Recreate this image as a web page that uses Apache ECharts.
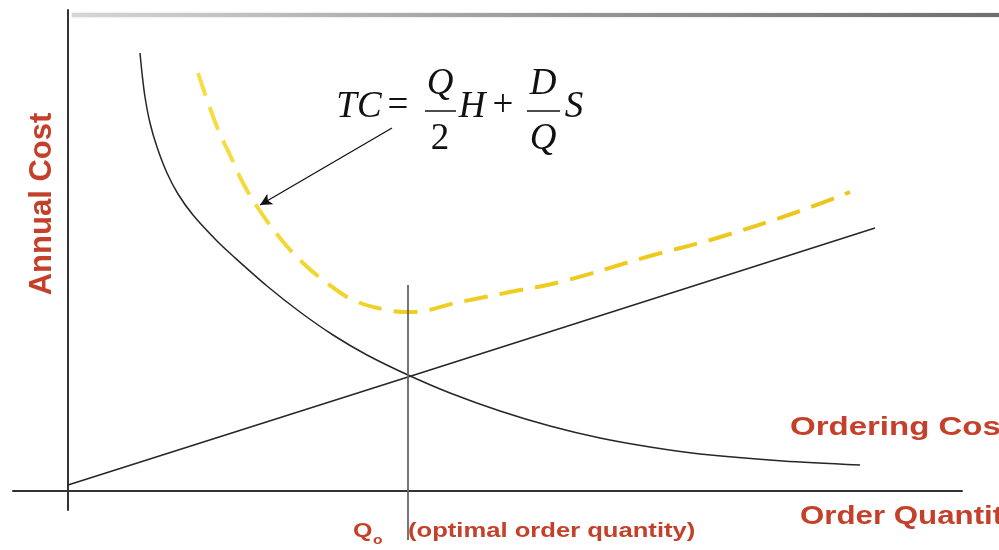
<!DOCTYPE html>
<html>
<head>
<meta charset="utf-8">
<script src="https://cdn.jsdelivr.net/npm/echarts@6/dist/echarts.min.js"></script>
<style>
    html, body { margin: 0; padding: 0; background: #fff; }
    #chart { width: 999px; height: 550px; }
</style>
</head>
<body>
<div id="chart"></div>
<script>
// order quantity / annual cost (arbitrary units)
var orderingQ    = [7.2, 7.4, 7.7, 8.2, 8.9, 9.9, 11.0, 12.5, 14.9, 16.5, 19.9, 23.2, 26.5, 29.9, 34.0, 38.2, 43.2, 48.2, 53.2, 58.2, 63.2, 71.5, 79.2];
var orderingCost = [43.8, 41.8, 39.4, 36.8, 34.4, 31.8, 29.7, 27.6, 25.0, 23.5, 20.5, 17.9, 15.6, 13.6, 11.6, 9.8, 8.0, 6.5, 5.3, 4.4, 3.7, 3.0, 2.6];

var holdingQ     = [0, 34.0, 80.7];
var holdingCost  = [0.6, 11.4, 26.3];

var totalQ       = [13.0, 14.9, 16.2, 17.5, 19.0, 21.2, 23.5, 25.9, 28.5, 31.9, 34.2, 39.2, 44.2, 49.2, 58.2, 64.9, 72.9, 78.2];
var totalCost    = [41.8, 36.4, 33.6, 30.8, 28.3, 25.3, 22.8, 20.8, 19.1, 18.1, 17.9, 18.9, 19.9, 20.9, 23.5, 25.3, 27.9, 29.9];

var optimalQ     = 34.0;
var optimalSpan  = [-4.9, 20.6];
var arrowFrom    = [32.4, 36.3];
var arrowTo      = [19.2, 28.6];

function pairs(xs, ys) {
    return xs.map(function (x, i) { return [x, ys[i]]; });
}

var red = '#c5402a';
var lineCol = '#262626';

function label(text, x, y, size, sx, opts) {
    opts = opts || {};
    return {
        type: 'text',
        x: x, y: y,
        rotation: opts.rotation || 0,
        scaleX: sx || 1,
        originX: 0, originY: 0,
        silent: true,
        style: {
            text: text,
            x: 0, y: 0,
            fill: opts.fill || red,
            font: (opts.font || 'bold ' + size + 'px "Liberation Sans", Arial, sans-serif'),
            align: opts.align || 'left',
            verticalAlign: 'middle',
            textAlign: opts.align || 'left',
            textVerticalAlign: 'middle'
        }
    };
}

var serif = '"Liberation Serif", "Times New Roman", serif';
function mathText(text, cx, cy, italic) {
    return label(text, cx, cy, 0, 1, {
        fill: '#111',
        align: 'center',
        font: (italic ? 'italic ' : '') + '37px ' + serif
    });
}

var myChart = echarts.init(document.getElementById('chart'), null, { renderer: 'canvas' });

var opt = {
    animation: false,
    backgroundColor: '#fff',
    grid: { left: 13, right: 37, top: 10, bottom: 40 },
    xAxis: {
        type: 'value',
        min: -5.5,
        max: 89.4,
        axisLine: { show: true, onZero: true, lineStyle: { color: '#333', width: 2 } },
        axisTick: { show: false },
        axisLabel: { show: false },
        splitLine: { show: false }
    },
    yAxis: {
        type: 'value',
        min: -1.9,
        max: 48.1,
        axisLine: { show: true, onZero: true, lineStyle: { color: '#333', width: 2 } },
        axisTick: { show: false },
        axisLabel: { show: false },
        splitLine: { show: false }
    },
    series: [{
        name: 'Ordering cost',
        type: 'line',
        data: pairs(orderingQ, orderingCost),
        smooth: 0.3,
        symbol: 'none',
        clip: false,
        lineStyle: { color: lineCol, width: 1.5 }
    }, {
        name: 'Holding cost',
        type: 'line',
        data: pairs(holdingQ, holdingCost),
        symbol: 'none',
        clip: false,
        lineStyle: { color: lineCol, width: 1.5 },
        markLine: {
            silent: true,
            symbol: ['none', 'arrow'],
            symbolSize: [9, 12],
            label: { show: false },
            lineStyle: { color: '#111', width: 1.3, type: 'solid' },
            data: [[{ coord: arrowFrom }, { coord: arrowTo }]]
        }
    }, {
        name: 'Total cost',
        type: 'line',
        data: pairs(totalQ, totalCost),
        smooth: 0.4,
        symbol: 'none',
        clip: false,
        lineStyle: {
            width: 4,
            type: [24, 12],
            color: new echarts.graphic.LinearGradient(0, 0, 1, 0, [
                { offset: 0, color: '#f4df45' },
                { offset: 0.3, color: '#f0cf22' },
                { offset: 1, color: '#ecc51c' }
            ])
        }
    }, {
        name: 'Qo',
        type: 'line',
        data: [[optimalQ, optimalSpan[0]], [optimalQ, optimalSpan[1]]],
        symbol: 'none',
        clip: false,
        lineStyle: { color: '#666', width: 1.8 }
    }],
    graphic: [
        // grey band across the top
        {
            type: 'rect',
            silent: true,
            shape: { x: 72, y: 13, width: 927, height: 4 },
            style: {
                fill: new echarts.graphic.LinearGradient(0, 0, 1, 0, [
                    { offset: 0, color: '#d6d6d6' },
                    { offset: 0.5, color: '#9a9a9a' },
                    { offset: 1, color: '#6e6e6e' }
                ]),
                shadowBlur: 2,
                shadowColor: 'rgba(0,0,0,0.2)'
            }
        },
        label('Annual Cost', 42, 204, 31, 1, { rotation: Math.PI / 2, align: 'center' }),
        label('Ordering Cost', 790, 428, 25, 1.32),
        label('Order Quantity', 800, 517, 25, 1.25),
        label('Q', 353, 531, 20, 1.25),
        label('o', 373, 541, 12, 1.3),
        label('(optimal order quantity)', 408, 531, 20, 1.28),

        // TC = Q/2 H + D/Q S
        mathText('TC', 359, 107, true),
        mathText('=', 398, 106, false),
        mathText('Q', 440, 84, true),
        { type: 'line', silent: true, shape: { x1: 425, y1: 111, x2: 456, y2: 111 }, style: { stroke: '#111', lineWidth: 1.5 } },
        mathText('2', 440, 139, false),
        mathText('H', 472, 107, true),
        mathText('+', 503, 106, false),
        mathText('D', 543, 84, true),
        { type: 'line', silent: true, shape: { x1: 527, y1: 111, x2: 560, y2: 111 }, style: { stroke: '#111', lineWidth: 1.5 } },
        mathText('Q', 543, 139, true),
        mathText('S', 574, 107, true)
    ]
};

myChart.setOption(opt);
</script>
</body>
</html>
